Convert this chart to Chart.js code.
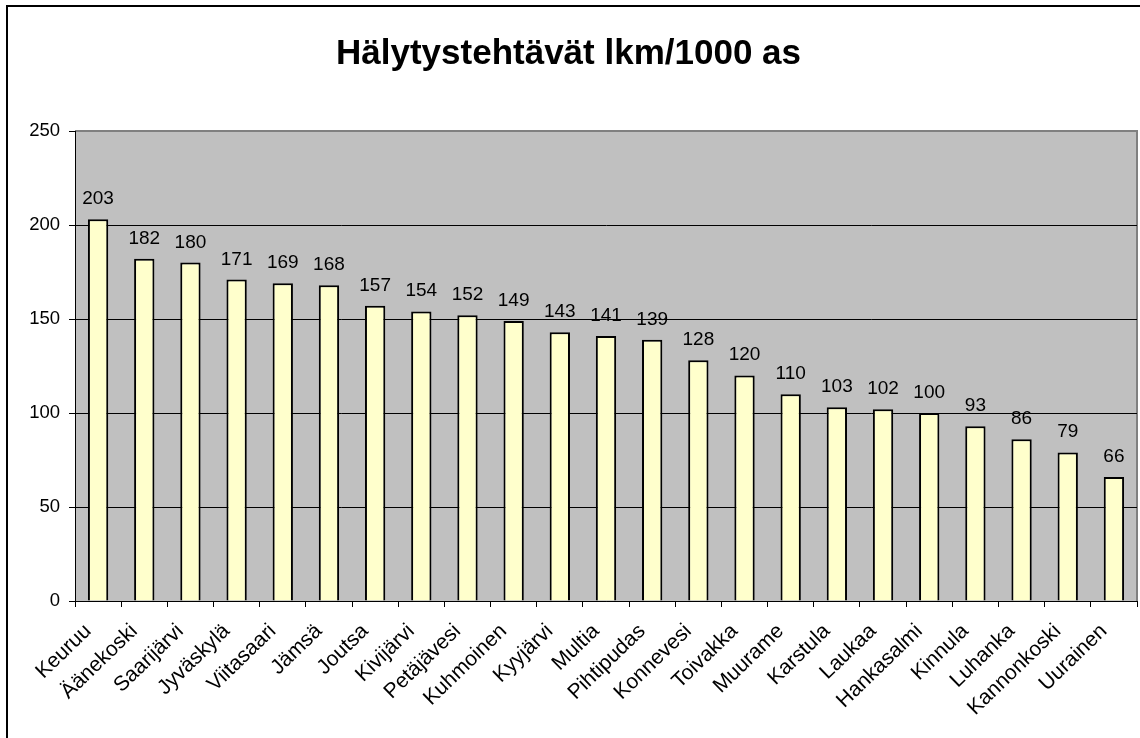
<!DOCTYPE html>
<html>
<head>
<meta charset="utf-8">
<script src="https://cdn.jsdelivr.net/npm/chart.js@4/dist/chart.umd.min.js"></script>
<style>
  body { margin: 0; background: #fff; }
  #wrap { position: relative; width: 1140px; height: 738px; }
</style>
</head>
<body>
<div id="wrap"><canvas id="c" width="1140" height="738"></canvas></div>
<script>
// kunnat
const kunnat = ['Keuruu', 'Äänekoski', 'Saarijärvi', 'Jyväskylä', 'Viitasaari', 'Jämsä', 'Joutsa',
  'Kivijärvi', 'Petäjävesi', 'Kuhmoinen', 'Kyyjärvi', 'Multia', 'Pihtipudas', 'Konnevesi',
  'Toivakka', 'Muurame', 'Karstula', 'Laukaa', 'Hankasalmi', 'Kinnula', 'Luhanka',
  'Kannonkoski', 'Uurainen'];
// hälytystehtävät / 1000 asukasta
const tehtavat = [203, 182, 180, 171, 169, 168, 157, 154, 152, 149, 143, 141, 139, 128,
  120, 110, 103, 102, 100, 93, 86, 79, 66];
const yTicks = [0, 50, 100, 150, 200, 250];

const FONT = 'Arial, "Liberation Sans", sans-serif';

// taustat, kehys ja arvot pylväiden päälle
const piirto = {
  id: 'piirto',
  beforeDraw(chart) {
    const ctx = chart.ctx;
    const a = chart.chartArea;
    ctx.save();
    ctx.fillStyle = '#fff';
    ctx.fillRect(0, 0, chart.width, chart.height);
    // ulkokehys
    ctx.strokeStyle = '#000';
    ctx.lineWidth = 2;
    ctx.beginPath();
    ctx.moveTo(7, chart.height);
    ctx.lineTo(7, 6);
    ctx.lineTo(chart.width, 6);
    ctx.stroke();
    // piirtoalue
    ctx.fillStyle = '#C0C0C0';
    ctx.fillRect(a.left, a.top, a.right - a.left, a.bottom - a.top);
    ctx.strokeStyle = '#808080';
    ctx.lineWidth = 2;
    ctx.beginPath();
    ctx.moveTo(a.left, a.top);
    ctx.lineTo(a.right, a.top);
    ctx.lineTo(a.right, a.bottom);
    ctx.stroke();
    ctx.restore();
  },
  afterDatasetsDraw(chart) {
    const ctx = chart.ctx;
    const meta = chart.getDatasetMeta(0);
    ctx.save();
    ctx.font = '19px ' + FONT;
    ctx.fillStyle = '#000';
    ctx.textAlign = 'center';
    ctx.textBaseline = 'alphabetic';
    meta.data.forEach((bar, i) => {
      ctx.fillText(String(tehtavat[i]), bar.x, bar.y - 15);
    });
    ctx.restore();
  }
};

new Chart(document.getElementById('c'), {
  type: 'bar',
  data: {
    labels: kunnat,
    datasets: [{
      data: tehtavat,
      backgroundColor: '#FFFFCC',
      borderColor: '#000',
      borderWidth: 2,
      categoryPercentage: 1,
      barPercentage: 0.44
    }]
  },
  options: {
    responsive: false,
    animation: false,
    devicePixelRatio: 1,
    layout: { padding: { left: 0, right: 3, top: 0, bottom: 0 } },
    plugins: {
      legend: { display: false },
      tooltip: { enabled: false },
      title: {
        display: true,
        text: 'Hälytystehtävät lkm/1000 as',
        color: '#000',
        font: { family: FONT, size: 35, weight: 'bold', lineHeight: 1.2 },
        padding: { top: 33, bottom: 56 }
      }
    },
    scales: {
      x: {
        grid: {
          offset: true,
          drawOnChartArea: false,
          drawTicks: true,
          tickLength: 6,
          color: '#000'
        },
        border: { display: true, color: '#000', width: 1 },
        ticks: {
          color: '#000',
          font: { family: FONT, size: 21 },
          minRotation: 44,
          maxRotation: 44,
          autoSkip: false,
          labelOffset: -10,
          padding: 12
        },
        afterFit(scale) {
          scale.height = 137;
          scale.paddingLeft = 0;
          scale.paddingRight = 0;
        }
      },
      y: {
        min: 0,
        max: 250,
        afterBuildTicks(scale) { scale.ticks = yTicks.map(v => ({ value: v })); },
        grid: {
          color: ctx => (ctx.tick && ctx.tick.value === 250) ? 'rgba(0,0,0,0)' : '#000',
          tickColor: '#000',
          tickLength: 6,
          lineWidth: 1
        },
        border: { display: true, color: '#000', width: 1 },
        ticks: {
          color: '#000',
          font: { family: FONT, size: 18.5 },
          padding: 9
        },
        afterFit(scale) { scale.width = 75; }
      }
    }
  },
  plugins: [piirto]
});
</script>
</body>
</html>
